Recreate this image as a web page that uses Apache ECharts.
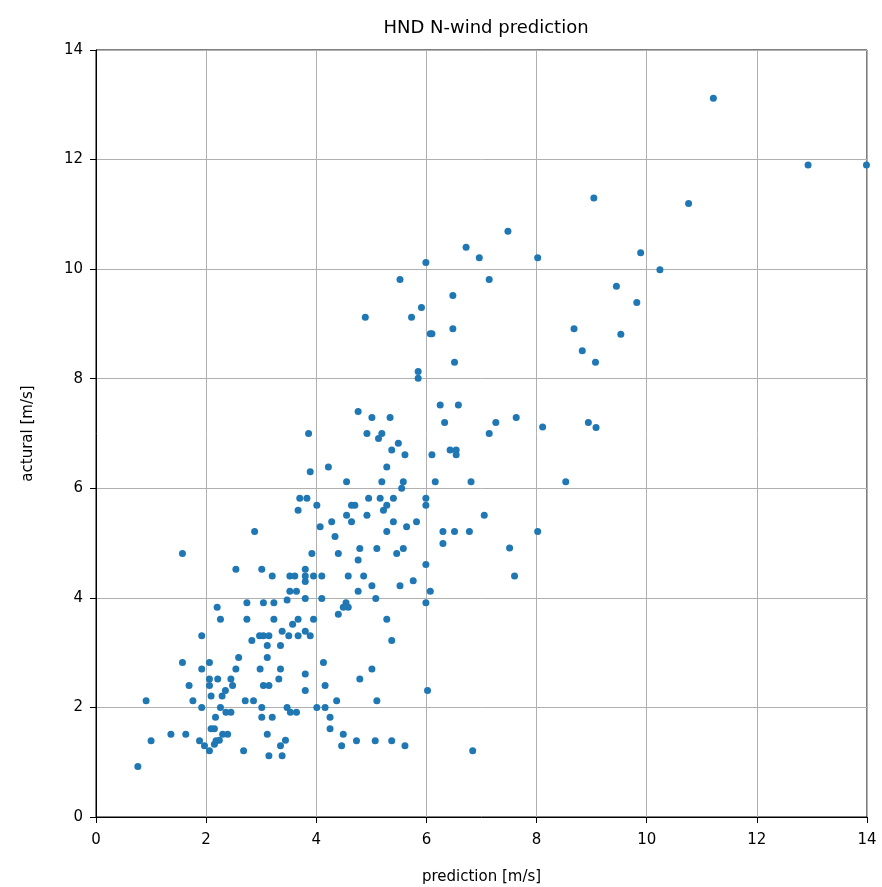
<!DOCTYPE html>
<html>
<head>
<meta charset="utf-8">
<script src="https://cdn.jsdelivr.net/npm/echarts@6/dist/echarts.min.js"></script>
<style>
  html, body { margin: 0; padding: 0; background: #fff; }
  #chart { width: 882px; height: 887px; }
</style>
</head>
<body>
<div id="chart"></div>
<script>
// values
const prediction = [
  2.20, 2.74, 3.04, 3.23, 3.47, 2.26, 2.74, 3.23, 3.57, 1.92, 2.97, 3.04,
  3.14, 3.38, 3.50, 2.83, 3.11, 3.35, 1.57, 2.06, 2.59, 3.11, 1.92, 2.54,
  2.98, 3.35, 2.06, 2.21, 2.45, 3.32, 1.69, 2.06, 2.48, 3.04, 3.14, 2.35,
  2.29, 2.09, 0.91, 1.76, 2.71, 2.86, 1.92, 2.26, 3.01, 3.47, 3.53, 2.36,
  2.45, 2.17, 3.01, 3.20, 2.09, 2.15, 1.36, 1.63, 2.30, 2.39, 3.11, 1.00,
  1.88, 2.18, 2.24, 3.44, 1.97, 2.15, 3.35, 2.06, 2.68, 3.14, 3.38, 0.76,
  3.80, 4.10, 4.54, 4.58, 4.49, 4.40, 5.08, 5.99, 3.67, 3.95, 5.28, 3.80,
  3.67, 3.89, 5.37, 4.13, 5.01, 3.80, 4.79, 4.16, 3.80, 6.02, 4.37, 5.10,
  3.64, 4.01, 4.16, 4.25, 4.25, 4.49, 4.46, 4.73, 5.07, 5.37, 5.61, 6.84,
  1.57, 2.88, 2.54, 3.01, 3.20,
  3.86, 4.76, 5.01, 5.34, 4.92, 5.19, 5.13, 5.49, 5.37, 5.61, 6.25, 6.58,
  6.33, 7.14, 6.10, 6.43, 6.54, 6.54, 3.89, 4.22, 5.28, 4.55, 5.19, 5.58,
  5.55, 6.16, 6.81, 3.70, 3.83, 3.67, 4.01, 4.64, 4.70, 4.95, 5.16, 5.40,
  5.28, 5.22, 5.99, 5.99, 4.55, 4.92, 4.64, 4.28, 4.07, 5.40, 5.82, 5.64,
  7.05, 4.34, 5.28, 6.30, 6.51, 6.78, 6.30, 3.92, 4.40, 4.79, 5.10, 5.46,
  5.58, 4.76, 5.99, 3.80, 3.52, 3.61, 3.80, 3.80, 3.95, 4.10, 4.58, 4.86,
  5.01, 5.52, 5.76, 4.76, 6.07, 3.52, 3.64,
  7.26, 7.63, 8.11, 8.94, 9.08, 8.53, 8.02, 7.51, 7.60,
  5.99, 6.72, 6.96, 7.14, 5.52, 6.48, 5.91, 5.73, 4.89, 6.07, 6.10, 6.48,
  6.51, 5.85, 5.85,
  9.04, 7.48, 8.02, 9.89, 10.24, 9.45, 9.82, 8.68, 9.53, 8.83, 9.07,
  11.21, 12.93, 13.99, 10.76
];
const actual = [
  3.83, 3.91, 3.91, 3.91, 3.96, 3.61, 3.61, 3.61, 3.52, 3.31, 3.31, 3.31,
  3.31, 3.39, 3.31, 3.22, 3.13, 3.13, 2.82, 2.82, 2.91, 2.91, 2.70, 2.70,
  2.70, 2.70, 2.52, 2.52, 2.52, 2.52, 2.40, 2.40, 2.40, 2.40, 2.40, 2.31,
  2.21, 2.21, 2.12, 2.12, 2.12, 2.12, 2.00, 2.00, 2.00, 2.00, 1.91, 1.91,
  1.91, 1.82, 1.82, 1.82, 1.61, 1.61, 1.51, 1.51, 1.51, 1.51, 1.51, 1.39,
  1.39, 1.39, 1.40, 1.40, 1.30, 1.33, 1.30, 1.21, 1.21, 1.12, 1.12, 0.92,
  3.99, 3.99, 3.91, 3.83, 3.83, 3.70, 3.99, 3.91, 3.61, 3.61, 3.61, 3.39,
  3.31, 3.31, 3.22, 2.82, 2.70, 2.61, 2.52, 2.40, 2.31, 2.31, 2.12, 2.12,
  1.91, 2.00, 2.00, 1.82, 1.61, 1.51, 1.30, 1.39, 1.39, 1.39, 1.30, 1.21,
  4.81, 5.21, 4.52, 4.52, 4.40,
  7.00, 7.40, 7.29, 7.29, 7.00, 7.00, 6.91, 6.82, 6.70, 6.61, 7.52, 7.52,
  7.20, 7.00, 6.61, 6.70, 6.70, 6.61, 6.30, 6.39, 6.39, 6.12, 6.12, 6.12,
  6.00, 6.12, 6.12, 5.82, 5.82, 5.60, 5.69, 5.69, 5.69, 5.82, 5.82, 5.82,
  5.69, 5.60, 5.82, 5.69, 5.51, 5.51, 5.39, 5.39, 5.30, 5.39, 5.39, 5.30,
  5.51, 5.12, 5.21, 5.21, 5.21, 5.21, 4.99, 4.81, 4.81, 4.90, 4.90, 4.81,
  4.90, 4.69, 4.61, 4.52, 4.40, 4.40, 4.40, 4.30, 4.40, 4.40, 4.40, 4.40,
  4.22, 4.22, 4.31, 4.12, 4.12, 4.12, 4.12,
  7.20, 7.29, 7.12, 7.20, 7.11, 6.12, 5.21, 4.91, 4.40,
  10.12, 10.40, 10.21, 9.81, 9.81, 9.52, 9.30, 9.12, 9.12, 8.82, 8.82, 8.91,
  8.30, 8.13, 8.01,
  11.30, 10.69, 10.21, 10.30, 9.99, 9.69, 9.39, 8.91, 8.81, 8.51, 8.30,
  13.12, 11.90, 11.90, 11.20
];
const tickStep = 2;
const axisMax = 14;

const chart = echarts.init(document.getElementById('chart'));
const font = 'DejaVu Sans';

const axisCommon = {
  type: 'value',
  min: 0,
  max: axisMax,
  interval: tickStep,
  nameLocation: 'middle',
  nameTextStyle: { color: '#000', fontSize: 15, fontFamily: font },
  axisLine: { show: true, onZero: false, lineStyle: { color: '#000', width: 1 } },
  axisTick: { show: true, inside: false, length: 6, lineStyle: { color: '#000' } },
  axisLabel: { color: '#000', fontSize: 15, fontFamily: font },
  splitLine: { show: true, lineStyle: { color: '#b0b0b0', width: 1 } }
};

const option = {
  animation: false,
  backgroundColor: '#fff',
  title: {
    text: 'HND N-wind prediction',
    left: 481,
    textAlign: 'center',
    top: 14,
    textStyle: { color: '#000', fontSize: 18, fontWeight: 'normal', fontFamily: font }
  },
  grid: {
    left: 96, right: 15, top: 50, bottom: 70,
    outerBoundsMode: 'none',
    show: true, borderColor: '#000', borderWidth: 1, backgroundColor: 'transparent'
  },
  xAxis: Object.assign({}, axisCommon, {
    name: 'prediction [m/s]', nameGap: 53,
    axisLabel: Object.assign({}, axisCommon.axisLabel, { margin: 16 })
  }),
  yAxis: Object.assign({}, axisCommon, {
    name: 'actural [m/s]', nameGap: 60,
    axisLabel: Object.assign({}, axisCommon.axisLabel, { margin: 13 })
  }),
  series: [{
    type: 'scatter',
    symbolSize: 7,
    itemStyle: { color: '#1f77b4', opacity: 1 },
    data: prediction.map((p, i) => [p, actual[i]])
  }]
};

chart.setOption(option);
</script>
</body>
</html>
